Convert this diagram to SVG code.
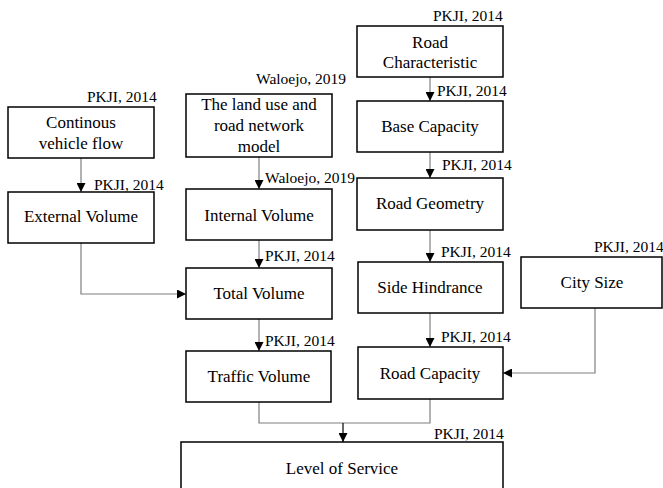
<svg xmlns="http://www.w3.org/2000/svg" width="663" height="488" viewBox="0 0 663 488">
<style>
.box{fill:#fff;stroke:#000;stroke-width:1.5}
.t{font-family:"Liberation Serif","Times New Roman",serif;font-size:17px;fill:#000;text-anchor:middle}
.l{font-family:"Liberation Serif","Times New Roman",serif;font-size:15.5px;fill:#000}
.c{fill:none;stroke:#7f7f7f;stroke-width:1.2}
.d{fill:none;stroke:#000;stroke-width:1.2}
</style>
<defs>
<marker id="ah" viewBox="0 0 10 10" refX="10" refY="5" markerWidth="9" markerHeight="9" markerUnits="userSpaceOnUse" orient="auto">
<path d="M0,0 L10,5 L0,10 z" fill="#000"/>
</marker>
</defs>
<rect width="663" height="488" fill="#fff"/>
<g id="connectors">
<path class="c" d="M81,158 V192" marker-end="url(#ah)"/>
<path class="c" d="M259,157 V189" marker-end="url(#ah)"/>
<path class="c" d="M259,240 V268" marker-end="url(#ah)"/>
<path class="c" d="M81,243 V294 H186" marker-end="url(#ah)"/>
<path class="c" d="M259,319 V351" marker-end="url(#ah)"/>
<path class="c" d="M430,77 V101" marker-end="url(#ah)"/>
<path class="c" d="M430,152 V178" marker-end="url(#ah)"/>
<path class="c" d="M430,230 V262" marker-end="url(#ah)"/>
<path class="c" d="M430,313 V347" marker-end="url(#ah)"/>
<path class="c" d="M595,308 V373 H503" marker-end="url(#ah)"/>
<path class="c" d="M259,402 V423 H430 V399"/>
<path class="d" d="M343,423 V442" marker-end="url(#ah)"/>
</g>
<g id="labels">
<text class="l" x="87" y="102">PKJI, 2014</text>
<text class="l" x="94" y="190">PKJI, 2014</text>
<text class="l" x="256" y="84">Waloejo, 2019</text>
<text class="l" x="265" y="183">Waloejo, 2019</text>
<text class="l" x="265" y="261">PKJI, 2014</text>
<text class="l" x="265" y="346">PKJI, 2014</text>
<text class="l" x="433" y="21">PKJI, 2014</text>
<text class="l" x="437" y="96">PKJI, 2014</text>
<text class="l" x="442" y="170">PKJI, 2014</text>
<text class="l" x="441" y="257">PKJI, 2014</text>
<text class="l" x="441" y="342">PKJI, 2014</text>
<text class="l" x="594" y="252">PKJI, 2014</text>
<text class="l" x="434" y="439">PKJI, 2014</text>
</g>
<g id="continous">
<rect class="box" x="8" y="107" width="146" height="51"/>
<text class="t" x="81" y="128">Continous</text>
<text class="t" x="81" y="149">vehicle flow</text>
</g>
<g id="external">
<rect class="box" x="8" y="192" width="146" height="51"/>
<text class="t" x="81" y="222">External Volume</text>
</g>
<g id="landuse">
<rect class="box" x="186" y="94" width="146" height="63"/>
<text class="t" x="259" y="110">The land use and</text>
<text class="t" x="259" y="131">road network</text>
<text class="t" x="259" y="152">model</text>
</g>
<g id="internal">
<rect class="box" x="186" y="189" width="146" height="51"/>
<text class="t" x="259" y="221">Internal Volume</text>
</g>
<g id="total">
<rect class="box" x="186" y="268" width="146" height="51"/>
<text class="t" x="259" y="299">Total Volume</text>
</g>
<g id="traffic">
<rect class="box" x="186" y="351" width="145" height="51"/>
<text class="t" x="259" y="382">Traffic Volume</text>
</g>
<g id="roadchar">
<rect class="box" x="357" y="26" width="146" height="51"/>
<text class="t" x="430" y="48">Road</text>
<text class="t" x="430" y="68">Characteristic</text>
</g>
<g id="base">
<rect class="box" x="357" y="101" width="146" height="51"/>
<text class="t" x="430" y="132">Base Capacity</text>
</g>
<g id="geometry">
<rect class="box" x="357" y="178" width="146" height="52"/>
<text class="t" x="430" y="209">Road Geometry</text>
</g>
<g id="side">
<rect class="box" x="358" y="262" width="145" height="51"/>
<text class="t" x="430" y="293">Side Hindrance</text>
</g>
<g id="city">
<rect class="box" x="521" y="257" width="141" height="51"/>
<text class="t" x="592" y="288">City Size</text>
</g>
<g id="roadcap">
<rect class="box" x="358" y="347" width="145" height="52"/>
<text class="t" x="430" y="379">Road Capacity</text>
</g>
<g id="los">
<rect class="box" x="181" y="442" width="322" height="50"/>
<text class="t" x="342" y="474">Level of Service</text>
</g>
</svg>
